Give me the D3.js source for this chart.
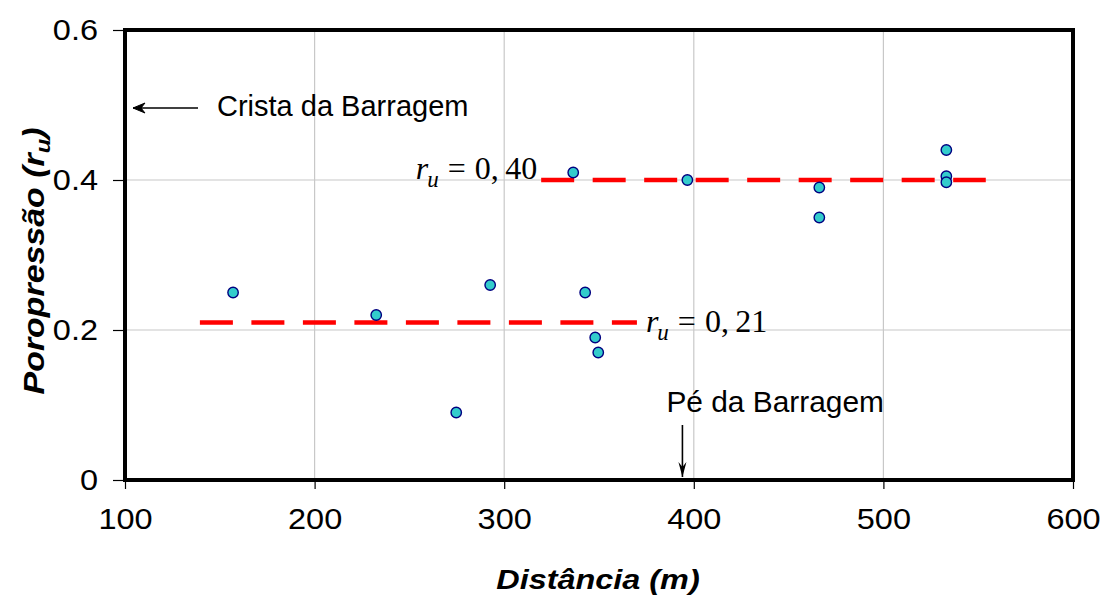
<!DOCTYPE html>
<html>
<head>
<meta charset="utf-8">
<script src="https://cdn.jsdelivr.net/npm/d3@7"></script>
<style>
  html, body { margin: 0; padding: 0; background: #fff; }
  svg { display: block; }
</style>
</head>
<body>
<svg id="chart" width="1103" height="597"></svg>
<script>
// ---- data ----
const distance = [157, 232.5, 274.7, 292.6, 336.4, 342.7, 348, 349.6, 396.6, 466.2, 466.2, 533.2, 533.2, 533.2];
const ru       = [0.25, 0.22, 0.09, 0.26, 0.41, 0.25, 0.19, 0.17, 0.40, 0.39, 0.35, 0.44, 0.405, 0.397];
const xTicks = [100, 200, 300, 400, 500, 600];
const yTicks = [0, 0.2, 0.4, 0.6];
const yTickLabels = ["0", "0.2", "0.4", "0.6"];
const meanLow  = { value: 0.21, from: 139.5, to: 370, label: "0, 21" };
const meanHigh = { value: 0.40, from: 319.5, to: 554, label: "0, 40" };
const crestX = 100;   // Crista da Barragem
const toeX = 394;     // Pé da Barragem

// ---- layout ----
const svg = d3.select("#chart");
const x = d3.scaleLinear().domain([100, 600]).range([125, 1073]);
const y = d3.scaleLinear().domain([0, 0.6]).range([480, 30]);
const sans = "'Liberation Sans', Arial, sans-serif";
const serif = "'Liberation Serif', 'Times New Roman', serif";

function stretch(sel, k) {
  sel.each(function () {
    const w = this.getComputedTextLength();
    d3.select(this).attr("textLength", w * k).attr("lengthAdjust", "spacingAndGlyphs");
  });
}

// grid
svg.append("g").selectAll("line").data(xTicks.slice(1, -1)).join("line")
  .attr("x1", d => x(d)).attr("x2", d => x(d)).attr("y1", y(0.6)).attr("y2", y(0))
  .attr("stroke", "#c8c8c8").attr("stroke-width", 1.2);
svg.append("g").selectAll("line").data(yTicks.slice(1, -1)).join("line")
  .attr("x1", x(100)).attr("x2", x(600)).attr("y1", d => y(d)).attr("y2", d => y(d))
  .attr("stroke", "#c8c8c8").attr("stroke-width", 1.2);

// axes
const xAxis = d3.axisBottom(x).tickValues(xTicks).tickSize(9).tickPadding(19).tickFormat(d3.format("d"));
const gx = svg.append("g").attr("transform", `translate(0,${y(0)})`).call(xAxis);
gx.select(".domain").remove();
gx.selectAll("line").attr("stroke", "#000").attr("stroke-width", 1.2);
gx.selectAll("text").attr("font-family", sans).attr("font-size", 29).attr("fill", "#000");
stretch(gx.selectAll("text"), 1.12);

const yAxis = d3.axisLeft(y).tickValues(yTicks).tickSize(12).tickPadding(15).tickFormat((d, i) => yTickLabels[i]);
const gy = svg.append("g").attr("transform", `translate(${x(100)},0)`).call(yAxis);
gy.select(".domain").remove();
gy.selectAll("line").attr("stroke", "#000").attr("stroke-width", 1.2);
gy.selectAll("text").attr("font-family", sans).attr("font-size", 29).attr("fill", "#000");
stretch(gy.selectAll("text"), 1.12);

// frame
svg.append("rect")
  .attr("x", x(100)).attr("y", y(0.6))
  .attr("width", x(600) - x(100)).attr("height", y(0) - y(0.6))
  .attr("fill", "none").attr("stroke", "#000").attr("stroke-width", 4);

// mean lines
[meanLow, meanHigh].forEach(m => {
  svg.append("line")
    .attr("x1", x(m.from)).attr("x2", x(m.to))
    .attr("y1", y(m.value)).attr("y2", y(m.value))
    .attr("stroke", "#ff0000").attr("stroke-width", 4.5)
    .attr("stroke-dasharray", "33,18.5");
});

// points
svg.append("g").selectAll("circle").data(distance.map((d, i) => [d, ru[i]])).join("circle")
  .attr("cx", d => x(d[0])).attr("cy", d => y(d[1])).attr("r", 5.2)
  .attr("fill", "#33cccc").attr("stroke", "#000080").attr("stroke-width", 1.4);

// r_u labels
function ruLabel(px, py, val, anchor) {
  const t = svg.append("text").attr("x", px).attr("y", py).attr("text-anchor", anchor)
    .attr("font-family", serif).attr("font-size", 32).attr("fill", "#000");
  t.append("tspan").attr("font-style", "italic").text("r");
  t.append("tspan").attr("font-style", "italic").attr("font-size", 23).attr("dy", 8).attr("dx", -1).text("u");
  t.append("tspan").attr("dy", -8).attr("dx", 9).text("=");
  t.append("tspan").attr("dx", 9).text(val.replace(" ", "\u2009"));
  return t;
}
ruLabel(x(meanHigh.from) - 4, y(meanHigh.value) - 1, meanHigh.label, "end");
ruLabel(x(meanLow.to) + 9, y(meanLow.value) + 9, meanLow.label, "start");

// Crista annotation
const ay = y(0.5) + 3;
svg.append("line").attr("x1", x(crestX) + 73).attr("x2", x(crestX) + 8)
  .attr("y1", ay).attr("y2", ay).attr("stroke", "#000").attr("stroke-width", 1.4);
svg.append("path")
  .attr("d", `M${x(crestX) + 20},${ay - 5} L${x(crestX) + 8},${ay} L${x(crestX) + 20},${ay + 5} L${x(crestX) + 16},${ay} Z`)
  .attr("fill", "#000").attr("stroke", "#000").attr("stroke-width", 1);
svg.append("text").attr("x", x(crestX) + 92).attr("y", ay + 8)
  .attr("font-family", sans).attr("font-size", 29).attr("fill", "#000").text("Crista da Barragem");

// Pé annotation
const tx = x(toeX);
svg.append("line").attr("x1", tx).attr("x2", tx).attr("y1", 425).attr("y2", y(0) - 3)
  .attr("stroke", "#000").attr("stroke-width", 1.6);
svg.append("path")
  .attr("d", `M${tx - 4},${y(0) - 18} L${tx},${y(0) - 3} L${tx + 4},${y(0) - 18} L${tx},${y(0) - 13} Z`)
  .attr("fill", "#000");
const pe = svg.append("text").attr("x", tx - 16).attr("y", 412)
  .attr("font-family", sans).attr("font-size", 29).attr("fill", "#000").text("Pé da Barragem");
stretch(pe, 1.03);

// axis titles
svg.append("text").attr("transform", `translate(${(x(100) + x(600)) / 2 - 1},589) scale(1.2,1)`)
  .attr("text-anchor", "middle").attr("font-family", sans).attr("font-size", 27)
  .attr("font-weight", "bold").attr("font-style", "italic").attr("fill", "#000")
  .text("Distância (m)");

const yl = svg.append("text").attr("transform", `translate(44,261) rotate(-90) scale(1.13,1)`)
  .attr("text-anchor", "middle").attr("font-family", sans).attr("font-size", 30)
  .attr("font-weight", "bold").attr("font-style", "italic").attr("fill", "#000");
yl.append("tspan").text("Poropressão  (r");
yl.append("tspan").attr("font-size", 21).attr("dy", 6).text("u");
yl.append("tspan").attr("dy", -6).text(")");
</script>
</body>
</html>
